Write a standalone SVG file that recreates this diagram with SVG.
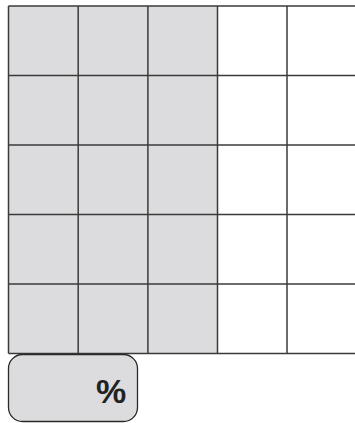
<svg xmlns="http://www.w3.org/2000/svg" width="355" height="423" viewBox="0 0 355 423">
<style>
.cell{stroke:#3a3a3a;stroke-width:1.5}
.g{fill:#dcdcde}
.w{fill:#ffffff}
.key{fill:#dcdcde;stroke:#2a2a2a;stroke-width:1.3}
.t{font-family:"Liberation Sans",Arial,sans-serif;font-size:34px;font-weight:bold;fill:#222}
</style>
<rect width="355" height="423" fill="#ffffff"/>
<g id="grid">
<rect class="g" x="8.5" y="6" width="209" height="347.5"/>
<g class="cell" fill="none">
<line x1="8.5" y1="6" x2="355" y2="6"/>
<line x1="8.5" y1="75.5" x2="355" y2="75.5"/>
<line x1="8.5" y1="145" x2="355" y2="145"/>
<line x1="8.5" y1="214.5" x2="355" y2="214.5"/>
<line x1="8.5" y1="284" x2="355" y2="284"/>
<line x1="8.5" y1="353.5" x2="355" y2="353.5"/>
<line x1="8.5" y1="6" x2="8.5" y2="353.5"/>
<line x1="78.2" y1="6" x2="78.2" y2="353.5"/>
<line x1="147.9" y1="6" x2="147.9" y2="353.5"/>
<line x1="217.5" y1="6" x2="217.5" y2="353.5"/>
<line x1="287" y1="6" x2="287" y2="353.5"/>
</g>
</g>
<g id="percent-key">
<rect class="key" x="8.5" y="354.5" width="129" height="67" rx="14"/>
<text class="t" x="111" y="403" text-anchor="middle">%</text>
</g>
</svg>
